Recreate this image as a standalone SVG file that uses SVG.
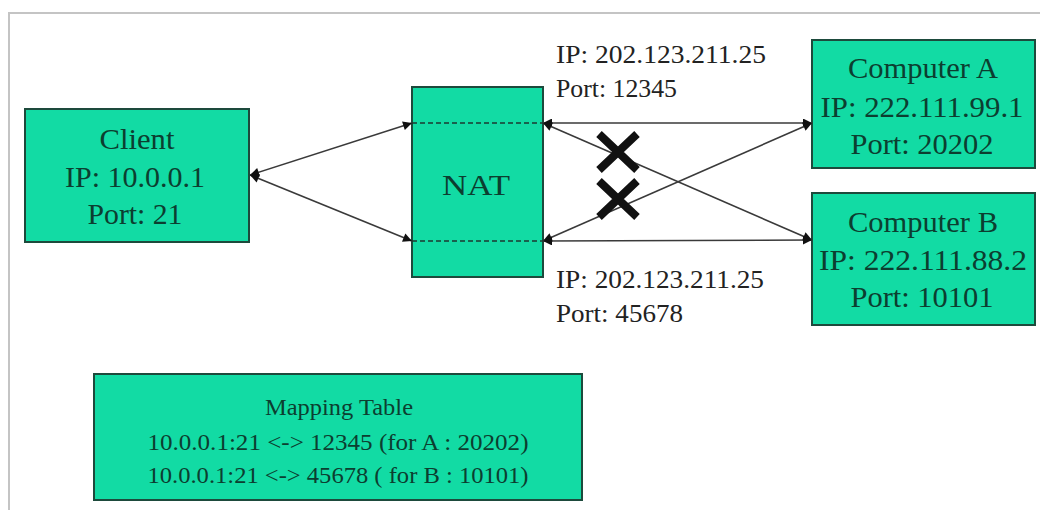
<svg xmlns="http://www.w3.org/2000/svg" width="1040" height="510" viewBox="0 0 1040 510">
  <defs>
    <style>
      .box { fill: #12dba4; stroke: #1d4a3c; stroke-width: 2; }
      .boxtext { font-family: 'Liberation Serif', 'DejaVu Serif', serif; font-size: 30px; fill: #0c3e30; text-anchor: middle; }
      .label { font-family: 'Liberation Serif', 'DejaVu Serif', serif; font-size: 26px; fill: #222; }
      .maptext { font-family: 'Liberation Serif', 'DejaVu Serif', serif; font-size: 24px; fill: #0c3e30; text-anchor: middle; }
      .link { fill: none; stroke: #3a3a3a; stroke-width: 1.6; marker-start: url(#head); marker-end: url(#head); }
      .dash { stroke: #1d3a30; stroke-width: 1.4; stroke-dasharray: 5 3; }
      .cross { stroke: #111; stroke-width: 8; stroke-linecap: butt; }
      .frame { stroke: #c4c4c4; stroke-width: 2; fill: none; }
    </style>
    <marker id="head" viewBox="0 0 10 10" refX="10" refY="5" markerWidth="10" markerHeight="9" markerUnits="userSpaceOnUse" orient="auto-start-reverse">
      <path d="M0,0 L10,5 L0,10 z" fill="#111"/>
    </marker>
  </defs>

  <rect x="0" y="0" width="1040" height="510" fill="#fff"/>
  <path class="frame" d="M1040,13 H9 V510"/>

  <!-- nodes -->
  <g id="client">
    <rect class="box" x="25" y="109" width="224" height="133"/>
    <text class="boxtext" x="137" y="149" textLength="75" lengthAdjust="spacingAndGlyphs">Client</text>
    <text class="boxtext" x="135" y="187" textLength="140" lengthAdjust="spacingAndGlyphs">IP: 10.0.0.1</text>
    <text class="boxtext" x="135" y="224" textLength="95" lengthAdjust="spacingAndGlyphs">Port: 21</text>
  </g>

  <g id="nat">
    <rect class="box" x="412" y="87" width="131" height="190"/>
    <line class="dash" x1="412" y1="123" x2="543" y2="123"/>
    <line class="dash" x1="412" y1="241" x2="543" y2="241"/>
    <text class="boxtext" x="476" y="195" textLength="68" lengthAdjust="spacingAndGlyphs">NAT</text>
  </g>

  <g id="computer-a">
    <rect class="box" x="812" y="40" width="223" height="128"/>
    <text class="boxtext" x="923" y="78" textLength="150" lengthAdjust="spacingAndGlyphs">Computer A</text>
    <text class="boxtext" x="922" y="117" textLength="203" lengthAdjust="spacingAndGlyphs">IP: 222.111.99.1</text>
    <text class="boxtext" x="922" y="154" textLength="143" lengthAdjust="spacingAndGlyphs">Port: 20202</text>
  </g>

  <g id="computer-b">
    <rect class="box" x="812" y="193" width="223" height="132"/>
    <text class="boxtext" x="923" y="232" textLength="150" lengthAdjust="spacingAndGlyphs">Computer B</text>
    <text class="boxtext" x="923" y="270" textLength="208" lengthAdjust="spacingAndGlyphs">IP: 222.111.88.2</text>
    <text class="boxtext" x="922" y="307" textLength="143" lengthAdjust="spacingAndGlyphs">Port: 10101</text>
  </g>

  <g id="mapping-table">
    <rect class="box" x="94" y="374" width="488" height="126"/>
    <text class="maptext" x="339" y="415" textLength="148" lengthAdjust="spacingAndGlyphs">Mapping Table</text>
    <text class="maptext" x="338" y="450" textLength="381" lengthAdjust="spacingAndGlyphs">10.0.0.1:21 &lt;-&gt; 12345 (for  A : 20202)</text>
    <text class="maptext" x="338" y="483" textLength="381" lengthAdjust="spacingAndGlyphs">10.0.0.1:21 &lt;-&gt; 45678 ( for B : 10101)</text>
  </g>

  <!-- public address labels -->
  <g id="labels">
    <text class="label" x="556" y="63" textLength="210" lengthAdjust="spacingAndGlyphs">IP: 202.123.211.25</text>
    <text class="label" x="556" y="97" textLength="121" lengthAdjust="spacingAndGlyphs">Port: 12345</text>
    <text class="label" x="556" y="288" textLength="208" lengthAdjust="spacingAndGlyphs">IP: 202.123.211.25</text>
    <text class="label" x="556" y="322" textLength="127" lengthAdjust="spacingAndGlyphs">Port: 45678</text>
  </g>

  <!-- connectors -->
  <g id="connectors">
    <line class="link" x1="250" y1="175" x2="412" y2="123"/>
    <line class="link" x1="250" y1="175" x2="412" y2="241"/>
    <line class="link" x1="543" y1="123" x2="812" y2="123"/>
    <line class="link" x1="543" y1="123" x2="812" y2="240"/>
    <line class="link" x1="543" y1="241" x2="812" y2="123"/>
    <line class="link" x1="543" y1="241" x2="812" y2="240"/>
  </g>

  <!-- blocked paths -->
  <g id="blocked">
    <path class="cross" d="M599,134 L637,170 M637,134 L599,170"/>
    <path class="cross" d="M599,181 L637,217 M637,181 L599,217"/>
  </g>
</svg>
